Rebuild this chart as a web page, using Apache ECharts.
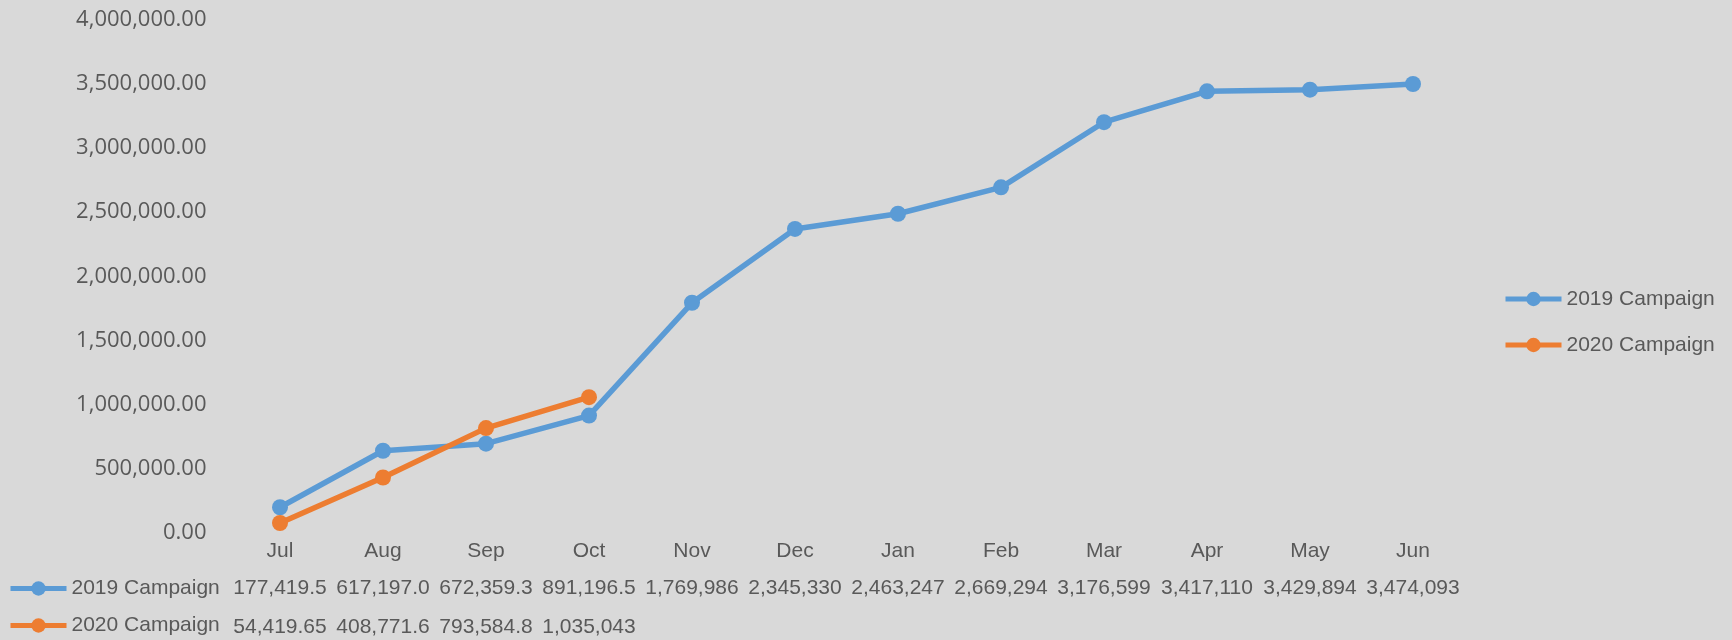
<!DOCTYPE html>
<html>
<head>
<meta charset="utf-8">
<script src="https://cdn.jsdelivr.net/npm/echarts@6/dist/echarts.min.js"></script>
<style>
  html, body { margin: 0; padding: 0; background: #d9d9d9; }
  #main { width: 1732px; height: 640px; }
</style>
</head>
<body>
<div id="main"></div>
<script>
var months = ['Jul', 'Aug', 'Sep', 'Oct', 'Nov', 'Dec', 'Jan', 'Feb', 'Mar', 'Apr', 'May', 'Jun'];
var campaign2019 = [177419.5, 617197.0, 672359.3, 891196.5, 1769986, 2345330, 2463247, 2669294, 3176599, 3417110, 3429894, 3474093];
var campaign2020 = [54419.65, 408771.6, 793584.8, 1035043];
var seriesNames = ['2019 Campaign', '2020 Campaign'];

var textColor = '#595959';
var tableFont = 'Liberation Sans';

// same look as the excel data table: about 7 significant digits
function tableValue(v){
  if (v === undefined)
    return '';
  var decimals = v >= 1000000 ? 0 : (v >= 100000 ? 1 : 2);
  return v.toLocaleString('en-US', {minimumFractionDigits: decimals, maximumFractionDigits: decimals});
}

function tableAxis(values, offset){
  return {
    type: 'category',
    data: months,
    position: 'bottom',
    offset: offset,
    axisLine: {show: false},
    axisTick: {show: false},
    axisLabel: {
      interval: 0,
      margin: 11,
      color: textColor,
      fontFamily: tableFont,
      fontSize: 21,
      formatter: function(val, idx){
        return tableValue(values[idx]);
      }
    }
  };
}

function legendBox(left, top, gap){
  return {
    data: seriesNames,
    orient: 'vertical',
    left: left,
    top: top,
    padding: 0,
    itemWidth: 56,
    itemHeight: 18,
    itemGap: gap,
    lineStyle: {width: 5},
    textStyle: {color: textColor, fontFamily: tableFont, fontSize: 21}
  };
}

var myChart = echarts.init(document.getElementById('main'));
var option = {
  backgroundColor: '#d9d9d9',
  color: ['#5b9bd5', '#ed7d31'],
  grid: {
    left: 228.5,
    right: 267.5,
    top: 16.5,
    bottom: 110
  },
  legend: [
    legendBox(1503, 288.5, 25),
    legendBox(8, 578, 16)
  ],
  xAxis: [
    {
      type: 'category',
      data: months,
      axisLine: {show: false},
      axisTick: {show: false},
      axisLabel: {
        interval: 0,
        margin: 11,
        color: textColor,
        fontFamily: tableFont,
        fontSize: 21
      }
    },
    tableAxis(campaign2019, 37),
    tableAxis(campaign2020, 76)
  ],
  yAxis: {
    type: 'value',
    min: 0,
    max: 4000000,
    interval: 500000,
    splitLine: {show: false},
    axisLine: {show: false},
    axisTick: {show: false},
    axisLabel: {
      margin: 22,
      color: textColor,
      fontFamily: 'Open Sans',
      fontSize: 22,
      formatter: function(v){
        return '{v|' + v.toLocaleString('en-US', {minimumFractionDigits: 2, maximumFractionDigits: 2}) + '}';
      },
      rich: {
        v: {
          color: textColor,
          fontFamily: 'Open Sans',
          fontSize: 22,
          padding: [6, 0, 0, 0]
        }
      }
    }
  },
  series: [
    {
      name: seriesNames[0],
      type: 'line',
      data: campaign2019,
      symbol: 'circle',
      symbolSize: 16,
      lineStyle: {width: 5.5},
      animation: false
    },
    {
      name: seriesNames[1],
      type: 'line',
      data: campaign2020,
      symbol: 'circle',
      symbolSize: 16,
      lineStyle: {width: 5.5},
      animation: false
    }
  ]
};
myChart.setOption(option);
</script>
</body>
</html>
